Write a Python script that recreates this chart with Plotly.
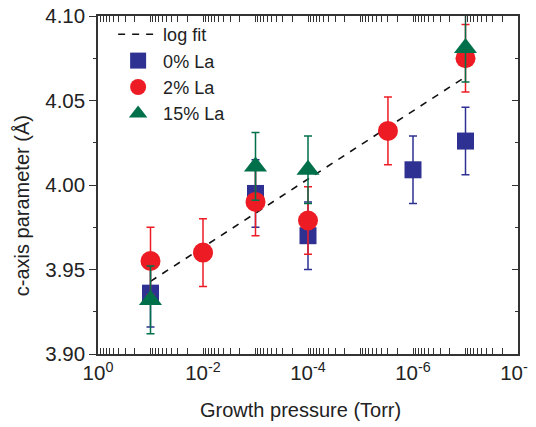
import plotly.graph_objects as go

# growth pressure (Torr) and c-axis parameter (Angstrom)
p_0la = [1e-1, 1e-3, 1e-4, 1e-6, 1e-7]
c_0la = [3.936, 3.995, 3.970, 4.009, 4.026]
err_0la = [0.02, 0.02, 0.02, 0.02, 0.02]

p_2la = [1e-1, 1e-2, 1e-3, 1e-4, 3e-6, 1e-7]
c_2la = [3.955, 3.960, 3.990, 3.979, 4.032, 4.075]
err_2la = [0.02, 0.02, 0.02, 0.02, 0.02, 0.02]

p_15la = [1e-1, 1e-3, 1e-4, 1e-7]
c_15la = [3.932, 4.011, 4.009, 4.081]
err_15la = [0.02, 0.02, 0.02, 0.02]

# log fit end points
p_fit = [1e-1, 1e-7]
c_fit = [3.943, 4.064]

y_ticks = [3.90, 3.95, 4.00, 4.05, 4.10]
y_labels = ["3.90", "3.95", "4.00", "4.05", "4.10"]

tick_vals = [10.0 ** -k for k in range(0, 9)]
tick_text = ["10<sup>%s</sup>" % ("0" if k == 0 else "-%d" % k) if k % 2 == 0 else ""
             for k in range(0, 9)]
minor_vals = [d * 10.0 ** -k for k in range(1, 9) for d in range(2, 10)]

NAVY = "#2E3192"
RED = "#ED1C24"
GREEN = "#00704A"
AXIS = "#333333"
FONT = "Arial, Liberation Sans, sans-serif"

fig = go.Figure()
fig.add_trace(go.Scatter(x=p_fit, y=c_fit, mode="lines", name="log fit",
                         line=dict(color="#111111", width=1.6, dash="7px,7px")))
fig.add_trace(go.Scatter(x=p_0la, y=c_0la, mode="markers", name="0% La",
                         marker=dict(symbol="square", size=17, color=NAVY),
                         error_y=dict(type="data", array=err_0la, color=NAVY,
                                      thickness=1.5, width=4)))
fig.add_trace(go.Scatter(x=p_2la, y=c_2la, mode="markers", name="2% La",
                         marker=dict(symbol="circle", size=20, color=RED),
                         error_y=dict(type="data", array=err_2la, color=RED,
                                      thickness=1.5, width=4)))
fig.add_trace(go.Scatter(x=p_15la, y=c_15la, mode="markers", name="15% La",
                         marker=dict(symbol="triangle-up", size=20, color=GREEN),
                         error_y=dict(type="data", array=err_15la, color=GREEN,
                                      thickness=1.5, width=4)))
# empty trace so the right-hand axis gets drawn
fig.add_trace(go.Scatter(x=[], y=[], yaxis="y2", showlegend=False))

# page body adds 8px offset, margins compensate for it
fig.update_layout(
    width=536, height=427,
    margin=dict(l=90, r=26, t=8, b=81),
    plot_bgcolor="white", paper_bgcolor="white",
    font=dict(family=FONT, size=19, color="#222222"),
    showlegend=True,
    legend=dict(x=0.036, y=1.0, xanchor="left", yanchor="top",
                bgcolor="rgba(0,0,0,0)", font=dict(size=18), itemwidth=40,
                tracegroupgap=0),
    xaxis=dict(type="log", range=[0, -8], tickvals=tick_vals, ticktext=tick_text,
               ticks="inside", ticklen=6, tickwidth=1.3, tickcolor=AXIS,
               showline=True, linecolor=AXIS, linewidth=1.5, mirror="allticks",
               showgrid=False, zeroline=False, ticklabeloverflow="allow",
               automargin=False,
               minor=dict(tickvals=minor_vals, ticks="inside", ticklen=3,
                          tickwidth=1, tickcolor=AXIS, showgrid=False),
               tickfont=dict(size=20.5)),
    yaxis=dict(range=[3.90, 4.10], tickvals=y_ticks, ticktext=y_labels,
               ticks="outside", ticklen=7, tickwidth=1.3, tickcolor=AXIS,
               showline=True, linecolor=AXIS, linewidth=1.5, mirror=True,
               showgrid=False, zeroline=False, ticklabeloverflow="allow",
               automargin=False,
               minor=dict(dtick=0.025, ticks="outside", ticklen=3, tickwidth=1,
                          tickcolor=AXIS, showgrid=False),
               tickfont=dict(size=20.5)),
    yaxis2=dict(range=[3.90, 4.10], overlaying="y", side="right", anchor="x",
                tickvals=y_ticks, showticklabels=False, automargin=False,
                ticks="inside", ticklen=6, tickwidth=1.3, tickcolor=AXIS,
                showline=False, showgrid=False, zeroline=False,
                minor=dict(dtick=0.025, ticks="inside", ticklen=3, tickwidth=1,
                           tickcolor=AXIS, showgrid=False)),
    annotations=[
        dict(text="Growth pressure (Torr)", xref="paper", yref="paper",
             x=0.483, y=-0.166, xanchor="center", yanchor="middle",
             showarrow=False, font=dict(size=20)),
        dict(text="c-axis parameter (Å)", xref="paper", yref="paper",
             x=-0.181, y=0.44, xanchor="center", yanchor="middle",
             textangle=-90, showarrow=False, font=dict(size=20)),
    ],
)

fig.write_html("out.html")
